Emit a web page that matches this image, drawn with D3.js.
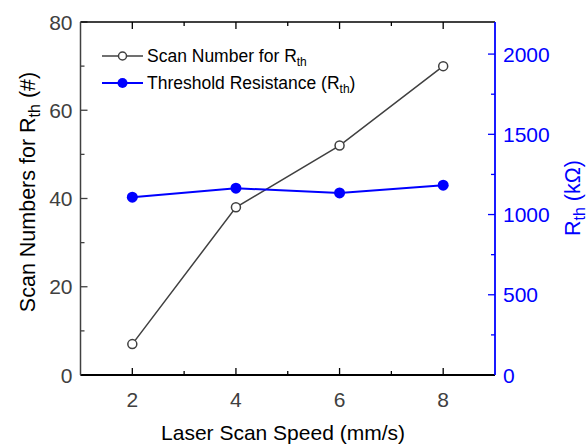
<!DOCTYPE html>
<html>
<head>
<meta charset="utf-8">
<script src="https://cdn.jsdelivr.net/npm/d3@7"></script>
<style>
body { margin: 0; background: #fff; }
text { font-family: Arial, "Liberation Sans", sans-serif; }
</style>
</head>
<body>
<svg id="chart" width="588" height="446"></svg>
<script>
var speeds = [2, 4, 6, 8];
var scanNumbers = [7, 38, 52, 70];
var resistance = [1108, 1164, 1135, 1183];
var xTicks = [2, 4, 6, 8];
var leftTicks = [0, 20, 40, 60, 80];
var rightTicks = [0, 500, 1000, 1500, 2000];

var plotL = 80.5, plotR = 495, plotT = 22, plotB = 375;
var blue = "#0000ff", gray = "#404040";

var svg = d3.select("#chart");

var x = d3.scaleLinear().domain([1, 9]).range([plotL, plotR]);
var yL = d3.scaleLinear().domain([0, 80]).range([plotB, plotT]);
var yR = d3.scaleLinear().domain([0, 2200]).range([plotB, plotT]);

// ticks, drawn by hand so they point inward
function tickLines(g, vals, f, color) {
  g.selectAll("line").data(vals).enter().append("line")
    .each(function(d) { var a = f(d); d3.select(this).attr("x1", a[0]).attr("y1", a[1]).attr("x2", a[2]).attr("y2", a[3]); })
    .attr("stroke", color).attr("stroke-width", 1.3);
}

var minorX = [3, 5, 7];
tickLines(svg.append("g"), xTicks, function(d) { return [x(d), plotB, x(d), plotB - 7]; }, "#000");
tickLines(svg.append("g"), minorX, function(d) { return [x(d), plotB, x(d), plotB - 4]; }, "#000");
tickLines(svg.append("g"), xTicks, function(d) { return [x(d), plotT, x(d), plotT + 7]; }, "#000");
tickLines(svg.append("g"), minorX, function(d) { return [x(d), plotT, x(d), plotT + 4]; }, "#000");

tickLines(svg.append("g"), leftTicks, function(d) { return [plotL, yL(d), plotL + 7, yL(d)]; }, gray);
tickLines(svg.append("g"), [10, 30, 50, 70], function(d) { return [plotL, yL(d), plotL + 4, yL(d)]; }, gray);

tickLines(svg.append("g"), rightTicks, function(d) { return [plotR, yR(d), plotR - 7, yR(d)]; }, blue);
tickLines(svg.append("g"), [250, 750, 1250, 1750], function(d) { return [plotR, yR(d), plotR - 4, yR(d)]; }, blue);

// frame
svg.append("line").attr("x1", plotL).attr("x2", plotR).attr("y1", plotT).attr("y2", plotT).attr("stroke", "#000").attr("stroke-width", 1.5);
svg.append("line").attr("x1", plotL).attr("x2", plotR).attr("y1", plotB).attr("y2", plotB).attr("stroke", "#000").attr("stroke-width", 2);
svg.append("line").attr("x1", plotL).attr("x2", plotL).attr("y1", plotT).attr("y2", plotB).attr("stroke", gray).attr("stroke-width", 1.5);
svg.append("line").attr("x1", plotR).attr("x2", plotR).attr("y1", plotT).attr("y2", plotB).attr("stroke", blue).attr("stroke-width", 1.8);

// tick labels
svg.selectAll(".xl").data(xTicks).enter().append("text")
  .attr("x", function(d) { return x(d); }).attr("y", 407)
  .attr("text-anchor", "middle").attr("font-size", "21px").attr("fill", gray)
  .text(function(d) { return d; });
svg.selectAll(".yl").data(leftTicks).enter().append("text")
  .attr("x", plotL - 8).attr("y", function(d) { return yL(d) + 7.5; })
  .attr("text-anchor", "end").attr("font-size", "21px").attr("fill", gray)
  .text(function(d) { return d; });
svg.selectAll(".yr").data(rightTicks).enter().append("text")
  .attr("x", plotR + 8).attr("y", function(d) { return yR(d) + 7.5; })
  .attr("text-anchor", "start").attr("font-size", "21px").attr("fill", blue)
  .text(function(d) { return d; });

// axis titles
svg.append("text").attr("x", 283).attr("y", 440).attr("text-anchor", "middle")
  .attr("font-size", "21px").attr("fill", "#000").text("Laser Scan Speed (mm/s)");

var lt = svg.append("text").attr("transform", "translate(35,192) rotate(-90)")
  .attr("text-anchor", "middle").attr("font-size", "21.5px").attr("fill", "#000");
lt.append("tspan").text("Scan Numbers for R");
lt.append("tspan").attr("font-size", "16px").attr("dy", 5).text("th");
lt.append("tspan").attr("dy", -5).text(" (#)");

var rt = svg.append("text").attr("transform", "translate(580,198) rotate(-90)")
  .attr("text-anchor", "middle").attr("font-size", "21.5px").attr("fill", blue);
rt.append("tspan").text("R");
rt.append("tspan").attr("font-size", "16px").attr("dy", 5).text("th");
rt.append("tspan").attr("dy", -5).text(" (k\u03A9)");

// series
var scanData = speeds.map(function(s, i) { return {x: s, y: scanNumbers[i]}; });
var resData = speeds.map(function(s, i) { return {x: s, y: resistance[i]}; });

svg.append("path").datum(scanData)
  .attr("d", d3.line().x(function(d) { return x(d.x); }).y(function(d) { return yL(d.y); }))
  .attr("fill", "none").attr("stroke", gray).attr("stroke-width", 1.5);
svg.append("path").datum(resData)
  .attr("d", d3.line().x(function(d) { return x(d.x); }).y(function(d) { return yR(d.y); }))
  .attr("fill", "none").attr("stroke", blue).attr("stroke-width", 2);

svg.selectAll(".sc").data(scanData).enter().append("circle")
  .attr("cx", function(d) { return x(d.x); }).attr("cy", function(d) { return yL(d.y); })
  .attr("r", 4.5).attr("fill", "#fff").attr("stroke", gray).attr("stroke-width", 1.5);
svg.selectAll(".rs").data(resData).enter().append("circle")
  .attr("cx", function(d) { return x(d.x); }).attr("cy", function(d) { return yR(d.y); })
  .attr("r", 5.5).attr("fill", blue);

// legend
var leg = svg.append("g");
leg.append("line").attr("x1", 102).attr("x2", 143).attr("y1", 56).attr("y2", 56).attr("stroke", gray).attr("stroke-width", 1.5);
leg.append("circle").attr("cx", 122.5).attr("cy", 56).attr("r", 4).attr("fill", "#fff").attr("stroke", gray).attr("stroke-width", 1.5);
leg.append("line").attr("x1", 102).attr("x2", 143).attr("y1", 83).attr("y2", 83).attr("stroke", blue).attr("stroke-width", 2);
leg.append("circle").attr("cx", 122.5).attr("cy", 83).attr("r", 5).attr("fill", blue);

var l1 = leg.append("text").attr("x", 147).attr("y", 62).attr("font-size", "17.5px").attr("fill", "#000");
l1.append("tspan").text("Scan Number for R");
l1.append("tspan").attr("font-size", "12px").attr("dy", 4).text("th");
var l2 = leg.append("text").attr("x", 147).attr("y", 89).attr("font-size", "17.5px").attr("fill", "#000");
l2.append("tspan").text("Threshold Resistance (R");
l2.append("tspan").attr("font-size", "12px").attr("dy", 4).text("th");
l2.append("tspan").attr("dy", -4).text(")");
</script>
</body>
</html>
